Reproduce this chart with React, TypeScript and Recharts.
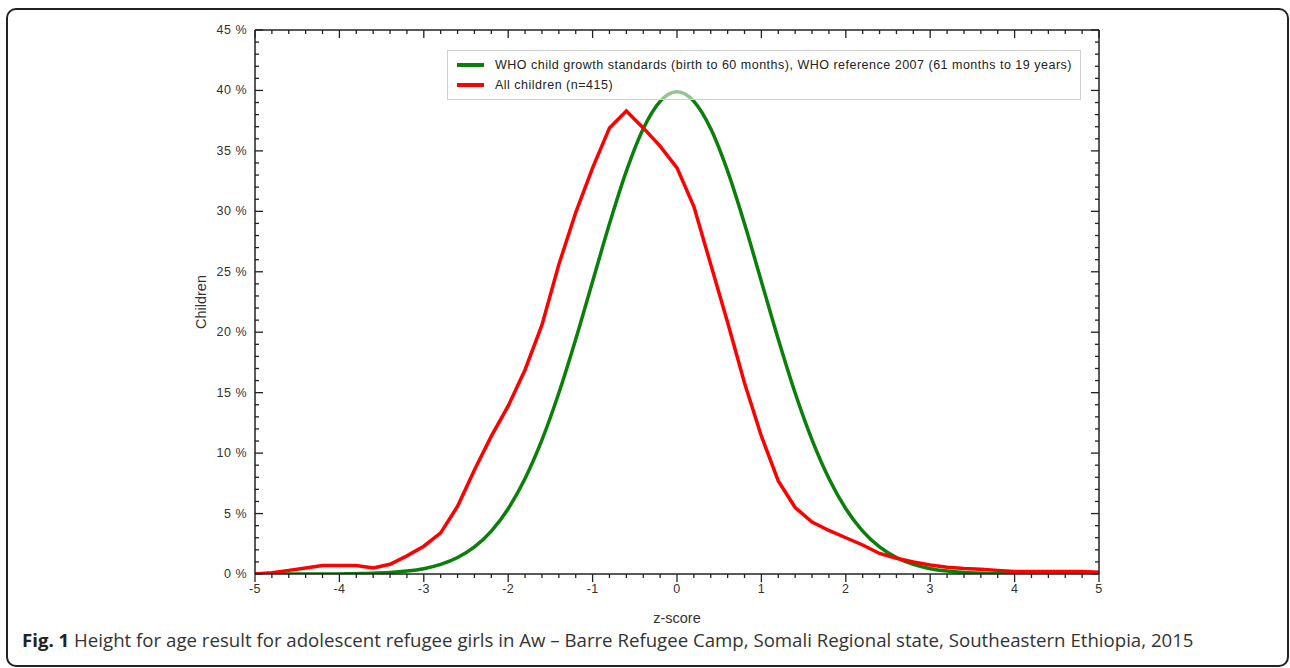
import React from 'react';
import { LineChart, Line, XAxis, YAxis, Legend } from 'recharts';

const zScores = [
  -5, -4.8, -4.6, -4.4, -4.2, -4, -3.8, -3.6, -3.4, -3.2, -3, -2.8, -2.6, -2.4, -2.2, -2, -1.8, -1.6, -1.4, -1.2, -1,
  -0.8, -0.6, -0.4, -0.2, 0, 0.2, 0.4, 0.6, 0.8, 1, 1.2, 1.4, 1.6, 1.8, 2, 2.2, 2.4, 2.6, 2.8, 3, 3.2, 3.4, 3.6, 3.8,
  4, 4.2, 4.4, 4.6, 4.8, 5,
];

const whoValues = [
  0, 0, 0, 0, 0, 0.01, 0.03, 0.06, 0.12, 0.24, 0.44, 0.79, 1.36, 2.24, 3.55, 5.4, 7.9, 11.09, 14.97, 19.42, 24.2,
  28.97, 33.32, 36.83, 39.1, 39.89, 39.1, 36.83, 33.32, 28.97, 24.2, 19.42, 14.97, 11.09, 7.9, 5.4, 3.55, 2.24, 1.36,
  0.79, 0.44, 0.24, 0.12, 0.06, 0.03, 0.01, 0, 0, 0, 0, 0,
];

const childrenValues = [
  0, 0.1, 0.3, 0.5, 0.7, 0.7, 0.7, 0.5, 0.8, 1.5, 2.3, 3.4, 5.6, 8.6, 11.4, 13.9, 16.9, 20.6, 25.6, 29.9, 33.6,
  36.9, 38.3, 36.9, 35.4, 33.6, 30.4, 25.6, 20.8, 15.8, 11.4, 7.7, 5.5, 4.3, 3.6, 3.0, 2.4, 1.7, 1.3, 1.0, 0.75,
  0.55, 0.45, 0.4, 0.3, 0.2, 0.2, 0.2, 0.2, 0.2, 0.15,
];

const xTicks = [
  -5, -4.8, -4.6, -4.4, -4.2, -4, -3.8, -3.6, -3.4, -3.2, -3, -2.8, -2.6, -2.4, -2.2, -2, -1.8, -1.6, -1.4, -1.2, -1,
  -0.8, -0.6, -0.4, -0.2, 0, 0.2, 0.4, 0.6, 0.8, 1, 1.2, 1.4, 1.6, 1.8, 2, 2.2, 2.4, 2.6, 2.8, 3, 3.2, 3.4, 3.6, 3.8,
  4, 4.2, 4.4, 4.6, 4.8, 5,
];

const yTicks = [
  0, 1, 2, 3, 4, 5, 6, 7, 8, 9, 10, 11, 12, 13, 14, 15, 16, 17, 18, 19, 20, 21, 22, 23, 24, 25, 26, 27, 28, 29, 30,
  31, 32, 33, 34, 35, 36, 37, 38, 39, 40, 41, 42, 43, 44, 45,
];

const seriesNames = [
  'WHO child growth standards (birth to 60 months), WHO reference 2007 (61 months to 19 years)',
  'All children (n=415)',
];

const data = zScores.map((z, i) => ({ z, who: whoValues[i], all: childrenValues[i] }));

const AXIS = '#222';
const TICK_FONT = "'Liberation Sans', Arial, sans-serif";

const isInt = (v: number) => Math.abs(v - Math.round(v)) < 1e-6;

const BottomTick = (props: any) => {
  const { x, y, payload } = props;
  const v = payload.value as number;
  const major = isInt(v);
  return (
    <g>
      <line x1={x} y1={y} x2={x} y2={y + (major ? 8 : 4)} stroke={AXIS} strokeWidth={1.3} />
      {major && (
        <text x={x} y={y + 19} textAnchor="middle" fontSize={12.5} letterSpacing={0.4} fill="#333" fontFamily={TICK_FONT}>
          {Math.round(v)}
        </text>
      )}
    </g>
  );
};

const TopTick = (props: any) => {
  const { x, y, payload } = props;
  const major = isInt(payload.value);
  return <line x1={x} y1={y} x2={x} y2={y + (major ? 8 : 4)} stroke={AXIS} strokeWidth={1.3} />;
};

const LeftTick = (props: any) => {
  const { x, y, payload } = props;
  const v = payload.value as number;
  const major = Math.round(v) % 5 === 0;
  return (
    <g>
      <line x1={x} y1={y} x2={x + (major ? 8 : 4)} y2={y} stroke={AXIS} strokeWidth={1.3} />
      {major && (
        <text x={x - 8} y={y + 4} textAnchor="end" fontSize={12.5} letterSpacing={0.5} fill="#333" fontFamily={TICK_FONT}>
          {`${v} %`}
        </text>
      )}
    </g>
  );
};

const RightTick = (props: any) => {
  const { x, y, payload } = props;
  const major = Math.round(payload.value) % 5 === 0;
  return <line x1={x} y1={y} x2={x - (major ? 8 : 4)} y2={y} stroke={AXIS} strokeWidth={1.3} />;
};

const LegendBox = (props: any) => {
  const items = [...(props.payload || [])]
    .filter((p: any) => seriesNames.includes(p.value))
    .sort((a: any, b: any) => seriesNames.indexOf(a.value) - seriesNames.indexOf(b.value));
  return (
    <div
      style={{
        width: 634,
        height: 50,
        boxSizing: 'border-box',
        border: '1px solid #d0d0d0',
        background: 'rgba(255,255,255,0.55)',
        padding: '4px 0 0 9px',
        fontFamily: TICK_FONT,
        fontSize: 12.5,
        letterSpacing: 0.5,
        color: '#222',
      }}
    >
      {items.map((p: any) => (
        <div key={p.value} style={{ display: 'flex', alignItems: 'center', height: 20 }}>
          <span style={{ display: 'inline-block', width: 27, height: 4, background: p.color, marginRight: 11 }} />
          <span>{p.value}</span>
        </div>
      ))}
    </div>
  );
};

export default function App() {
  return (
    <div style={{ position: 'absolute', left: 0, top: 0, width: 1290, height: 668, background: '#fff', overflow: 'hidden' }}>
      <div
        style={{
          position: 'absolute',
          left: 6,
          top: 8,
          width: 1283,
          height: 659,
          boxSizing: 'border-box',
          border: '2px solid #222',
          borderRadius: 10,
        }}
      />
      <div style={{ position: 'absolute', left: 0, top: 0 }}>
        <LineChart width={1290} height={640} data={data} margin={{ top: 29, right: 190, bottom: 46, left: 195 }}>
          <XAxis
            xAxisId="bottom"
            dataKey="z"
            type="number"
            domain={[-5, 5]}
            allowDataOverflow
            ticks={xTicks}
            interval={0}
            height={20}
            tickSize={0}
            tickMargin={0}
            tickLine={false}
            tick={<BottomTick />}
            axisLine={{ stroke: AXIS, strokeWidth: 1.5 }}
            label={{ value: 'z-score', position: 'bottom', offset: 19, fill: '#333', fontSize: 14.5, fontFamily: TICK_FONT }}
          />
          <XAxis
            xAxisId="top"
            dataKey="z"
            orientation="top"
            type="number"
            domain={[-5, 5]}
            allowDataOverflow
            ticks={xTicks}
            interval={0}
            height={1}
            tickSize={0}
            tickMargin={0}
            tickLine={false}
            tick={<TopTick />}
            axisLine={{ stroke: AXIS, strokeWidth: 1.5 }}
          />
          <YAxis
            yAxisId="left"
            type="number"
            domain={[0, 45]}
            allowDataOverflow
            ticks={yTicks}
            interval={0}
            width={60}
            tickSize={0}
            tickMargin={0}
            tickLine={false}
            tick={<LeftTick />}
            axisLine={{ stroke: AXIS, strokeWidth: 1.5 }}
            label={{
              value: 'Children',
              angle: -90,
              position: 'insideLeft',
              offset: 6,
              fill: '#333',
              fontSize: 14.5,
              fontFamily: TICK_FONT,
              style: { textAnchor: 'middle' },
            }}
          />
          <YAxis
            yAxisId="right"
            orientation="right"
            type="number"
            domain={[0, 45]}
            allowDataOverflow
            ticks={yTicks}
            interval={0}
            width={1}
            tickSize={0}
            tickMargin={0}
            tickLine={false}
            tick={<RightTick />}
            axisLine={{ stroke: AXIS, strokeWidth: 1.5 }}
          />
          <Legend
            layout="horizontal"
            verticalAlign="middle"
            align="center"
            content={<LegendBox />}
            wrapperStyle={{ position: 'absolute', left: 447, top: 50, width: 634, height: 50 }}
          />
          <Line
            xAxisId="top"
            yAxisId="right"
            dataKey="who"
            name="frame"
            legendType="none"
            stroke="none"
            strokeWidth={0}
            dot={false}
            activeDot={false}
            isAnimationActive={false}
          />
          <Line
            xAxisId="bottom"
            yAxisId="left"
            name={seriesNames[0]}
            dataKey="who"
            type="monotone"
            stroke="#0a800a"
            strokeWidth={3.5}
            dot={false}
            isAnimationActive={false}
          />
          <Line
            xAxisId="bottom"
            yAxisId="left"
            name={seriesNames[1]}
            dataKey="all"
            type="linear"
            stroke="#ff0000"
            strokeWidth={3.5}
            dot={false}
            isAnimationActive={false}
          />
        </LineChart>
      </div>
      <div
        style={{
          position: 'absolute',
          left: 22,
          top: 628,
          fontFamily: "'Open Sans', 'Noto Sans', sans-serif",
          fontSize: 18.65,
          color: '#333',
          whiteSpace: 'nowrap',
          lineHeight: '24px',
        }}
      >
        <b style={{ color: '#222' }}>Fig. 1</b> Height for age result for adolescent refugee girls in Aw – Barre Refugee Camp, Somali Regional state, Southeastern Ethiopia, 2015
      </div>
    </div>
  );
}
